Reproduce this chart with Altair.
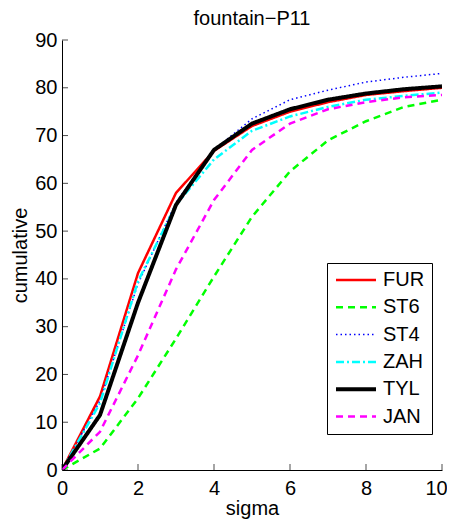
import altair as alt
import pandas as pd

sigma = [0, 1, 2, 3, 4, 5, 6, 7, 8, 9, 10]
FUR = [0, 15.4, 41.2, 58.0, 66.8, 72.0, 75.0, 77.0, 78.5, 79.3, 80.0]
ST6 = [0, 4.5, 15.0, 27.5, 40.5, 53.0, 62.5, 69.0, 73.0, 76.0, 77.5]
ST4 = [0, 14.5, 39.0, 56.0, 67.0, 73.5, 77.5, 79.5, 81.2, 82.2, 83.0]
ZAH = [0, 14.0, 39.5, 55.5, 65.0, 71.0, 74.0, 76.0, 77.5, 78.3, 79.0]
TYL = [0, 11.5, 35.0, 55.5, 67.0, 72.5, 75.5, 77.5, 78.8, 79.7, 80.3]
JAN = [0, 8.0, 24.0, 42.0, 56.5, 67.0, 72.5, 75.5, 77.0, 78.0, 78.5]

names = ["FUR", "ST6", "ST4", "ZAH", "TYL", "JAN"]
series = [FUR, ST6, ST4, ZAH, TYL, JAN]
colors = ["#ff0000", "#00ff00", "#0000ff", "#00ffff", "#000000", "#ff00ff"]
dashes = [[1, 0], [7, 5], [1.5, 3], [8, 3, 2, 3], [1, 0], [7, 5]]
widths = [2.5, 2.5, 1.5, 2.5, 4, 2.5]

xticks = [0, 2, 4, 6, 8, 10]
yticks = [0, 10, 20, 30, 40, 50, 60, 70, 80, 90]

rows = []
for n, s in zip(names, series):
    for x, v in zip(sigma, s):
        rows.append({"sigma": x, "cumulative": v, "method": n})
df = pd.DataFrame(rows)

FONT = "Liberation Sans"
FS = 20

xscale = alt.Scale(domain=[0, 10], nice=False, zero=False)
yscale = alt.Scale(domain=[0, 90], nice=False, zero=False)


def leg():
    return alt.Legend(title=None, orient="none", legendX=265, legendY=223,
                      symbolType="stroke", symbolSize=1600, clipHeight=20,
                      labelFontSize=FS, labelFont=FONT, labelColor="black",
                      rowPadding=7.3, padding=7, strokeColor="black",
                      fillColor="white", labelOffset=5)


lines = alt.Chart(df).mark_line(clip=True).encode(
    x=alt.X("sigma:Q", scale=xscale,
            axis=alt.Axis(values=xticks, title="sigma", grid=False, ticks=False,
                          labelFlush=False, labelOverlap=False,
                          labelOffset={"expr": "datum.value == 10 ? -6 : 0"},
                          labelFontSize=FS, titleFontSize=FS, labelFont=FONT,
                          titleFont=FONT, titleFontWeight="normal",
                          labelPadding=8, titlePadding=0, domainColor="black",
                          labelColor="black", titleColor="black")),
    y=alt.Y("cumulative:Q", scale=yscale,
            axis=alt.Axis(values=yticks, title="cumulative", grid=False, ticks=False,
                          labelFlush=False, labelOverlap=False,
                          labelFontSize=FS, titleFontSize=FS, labelFont=FONT,
                          titleFont=FONT, titleFontWeight="normal",
                          labelPadding=5, titlePadding=4, domainColor="black",
                          labelColor="black", titleColor="black")),
    color=alt.Color("method:N", scale=alt.Scale(domain=names, range=colors), legend=leg()),
    strokeDash=alt.StrokeDash("method:N", scale=alt.Scale(domain=names, range=dashes), legend=leg()),
    strokeWidth=alt.StrokeWidth("method:N",
                                scale=alt.Scale(type="ordinal", domain=names, range=widths),
                                legend=leg()),
    order=alt.Order("sigma:Q"),
)

xt = alt.Chart(pd.DataFrame({"t": xticks, "z": [0] * len(xticks)})).mark_tick(
    orient="vertical", size=6, yOffset=-3, color="black", thickness=1
).encode(x=alt.X("t:Q", scale=xscale), y=alt.Y("z:Q", scale=yscale))

yt = alt.Chart(pd.DataFrame({"t": yticks, "z": [0] * len(yticks)})).mark_tick(
    orient="horizontal", size=6, xOffset=3, color="black", thickness=1
).encode(y=alt.Y("t:Q", scale=yscale), x=alt.X("z:Q", scale=xscale))

chart = alt.layer(lines, xt, yt).properties(
    width=380, height=430,
    title=alt.Title("fountain\u2212P11", fontSize=FS, font=FONT, fontWeight="normal",
                    color="black", offset=1),
    autosize=alt.AutoSizeParams(type="none"),
    padding={"left": 54, "top": 32, "right": 5, "bottom": 56},
).configure_view(stroke=None).configure_axis(domainWidth=1)

chart.save("out.html", embed_options={"renderer": "svg", "actions": False})
